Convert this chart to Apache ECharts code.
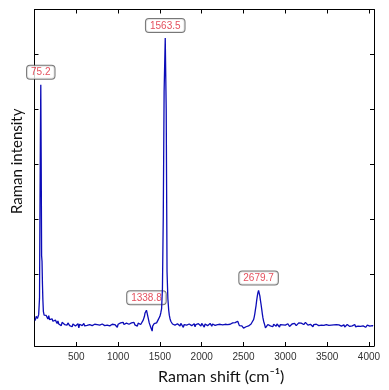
<!DOCTYPE html>
<html>
<head>
<meta charset="utf-8">
<script src="https://cdn.jsdelivr.net/npm/echarts@6/dist/echarts.min.js"></script>
<style>
html,body{margin:0;padding:0;background:#fff;}
#chart{width:389px;height:390px;}
</style>
</head>
<body>
<div id="chart"></div>
<script>
// ---- Spectrum data (Raman shift in cm^-1, intensity in counts) ----
// Low-wavenumber peak region (explicit points)
const lowShift = [8, 20, 35, 50, 60, 66, 70, 75.2, 80, 85, 90, 95, 100, 106, 115, 130, 140];
const lowInt   = [150, 230, 190, 260, 560, 2330, 3390, 4440, 3100, 1330, 1230, 820, 540, 320, 250, 230, 245];

// Baseline 150..1290 sampled every 10 cm^-1
const base1Start = 150, base1Step = 10;
const base1Int = [
  210,180,240,170,195,150,185,140,170,120,160,
  135,100,145,90,125,110,60,120,95,130,80,115,100,70,110,
  85,60,95,70,40,90,75,100,55,80,65,95,20,85,70,90,60,80,100,55,
  75,90,65,85,30,80,95,70,60,90,75,85,50,95,80,65,100,70,85,40,
  90,75,105,60,85,95,70,80,100,55,90,75,85,65,110,80,95,70,30,85,
  100,85,110,75,95,120,80,100,60,105,90,115,85,100,70,110,95,85,120,75,100,90,50,105,95,115,80,100,110
];

// D and G band region (explicit points)
const dgShift = [1300,1308,1315,1322,1330,1338.8,1345,1350,1358,1365,1372,1380,1388,1395,1401,1407,1413,1420,1430,1440,1450,1460,1470,1480,1490,
  1500,1510,1520,1530,1540,1550,1563.5,1575,1585,1595,1605,1612,1620,1630,1640];
const dgInt = [160,190,230,290,320,340,300,280,210,160,110,80,40,10,60,-40,50,60,95,100,75,110,135,170,200,
  230,290,370,730,2050,4310,5290,4000,1040,550,340,250,190,140,110];

// Baseline 1650..2590 sampled every 10 cm^-1
const base2Start = 1650, base2Step = 10;
const base2Int = [
  90,60,100,70,45,85,95,65,80,55,
  100,75,90,30,80,65,95,70,85,50,
  90,75,100,60,85,70,95,40,80,90,
  65,95,75,85,55,100,70,80,35,90,
  75,95,60,85,70,100,80,50,90,75,
  85,65,95,45,80,100,70,85,60,95,
  75,90,55,85,70,100,80,65,95,85,
  100,90,110,95,120,
  115,125,130,140,150,
  60,40,30,55,50,15,20,45,40,10,35,55,60,75,90
];

// 2D band region (explicit points)
const g2Shift = [2600,2605,2612,2620,2628,2635,2642,2650,2657,2665,2672,2679.7,2687,2695,2702,2710,2718,2725,2732,2740,2748,2755,2762,2770,2780];
const g2Int   = [110,130,150,170,220,280,350,430,520,600,660,700,650,600,520,440,350,270,200,140,100,70,20,-10,50];

// Baseline 2790..4050 sampled every 10 cm^-1
const base3Start = 2790, base3Step = 10;
const base3Int = [
  80,60,95,55,90,75,40,85,65,80,
  50,90,70,85,35,80,95,65,75,55,
  90,70,85,60,95,75,45,80,65,90,
  70,85,100,75,60,95,80,110,85,95,
  105,90,115,80,100,120,95,85,70,80,
  60,85,55,75,40,80,65,70,85,55,
  75,60,80,45,70,85,55,65,30,70,
  80,55,75,65,85,50,70,60,40,75,
  55,70,80,45,65,75,60,85,50,70,
  60,75,35,70,65,80,55,70,45,65,
  75,55,70,60,80,40,65,75,50,70,
  60,45,75,65,55,70,80,30,60,70,
  55,65,50,70,45,60,55
];

// Labelled peaks
const peakShift = [75.2, 1338.8, 1563.5, 2679.7];
const peakIntensity = [4440, 340, 5290, 700];

// Axis ticks
const xTicks = [500, 1000, 1500, 2000, 2500, 3000, 3500, 4000];
const yTicks = [1000, 2000, 3000, 4000, 5000];

const xMin = 0, xMax = 4060, yMin = -310, yMax = 5806;

function pairs(xs, ys) { return xs.map((x, i) => [x, ys[i]]); }
function sampled(start, step, ys) { return ys.map((y, i) => [start + i * step, y]); }

const lineData = [].concat(
  pairs(lowShift, lowInt),
  sampled(base1Start, base1Step, base1Int),
  pairs(dgShift, dgInt),
  sampled(base2Start, base2Step, base2Int),
  pairs(g2Shift, g2Int),
  sampled(base3Start, base3Step, base3Int)
).sort((a, b) => a[0] - b[0]);
const peakData = pairs(peakShift, peakIntensity);

const chart = echarts.init(document.getElementById('chart'), null, {renderer: 'canvas'});
const axisLineStyle = {color: '#000', width: 1};
chart.setOption({
  animation: false,
  backgroundColor: '#fff',
  grid: {left: 34.5, right: 15, top: 9.5, bottom: 42.3},
  xAxis: [{
    type: 'value', min: xMin, max: xMax, position: 'bottom',
    name: 'Raman shift (cm\u207B\u00B9)', nameLocation: 'middle', nameGap: 23,
    nameTextStyle: {fontFamily: 'Lato', fontSize: 16, color: '#111', padding: [0, 0, 0, 34]},
    axisLine: {show: true, onZero: false, lineStyle: axisLineStyle},
    axisTick: {show: true, inside: true, length: 4, customValues: xTicks, lineStyle: {color: '#000'}},
    axisLabel: {show: true, customValues: xTicks, formatter: v => String(v),
      fontFamily: 'Liberation Sans', fontSize: 10, color: '#333', margin: 6},
    splitLine: {show: false}
  }, {
    type: 'value', min: xMin, max: xMax, position: 'top',
    axisLine: {show: true, onZero: false, lineStyle: axisLineStyle},
    axisTick: {show: true, inside: true, length: 4, customValues: xTicks, lineStyle: {color: '#000'}},
    axisLabel: {show: false}, splitLine: {show: false}
  }],
  yAxis: [{
    type: 'value', min: yMin, max: yMax, position: 'left',
    name: 'Raman intensity', nameLocation: 'middle', nameGap: 10,
    nameTextStyle: {fontFamily: 'Lato', fontSize: 15, color: '#111', padding: [0, 0, 0, 33]},
    axisLine: {show: true, onZero: false, lineStyle: axisLineStyle},
    axisTick: {show: true, inside: true, length: 4, customValues: yTicks, lineStyle: {color: '#000'}},
    axisLabel: {show: false}, splitLine: {show: false}
  }, {
    type: 'value', min: yMin, max: yMax, position: 'right',
    axisLine: {show: true, onZero: false, lineStyle: axisLineStyle},
    axisTick: {show: true, inside: true, length: 4, customValues: yTicks, lineStyle: {color: '#000'}},
    axisLabel: {show: false}, splitLine: {show: false}
  }],
  series: [{
    type: 'line', data: lineData, xAxisIndex: 0, yAxisIndex: 0,
    showSymbol: false, symbol: 'none',
    lineStyle: {color: '#0c0cb8', width: 1.3},
    clip: true
  }, {
    type: 'scatter', data: peakData, xAxisIndex: 0, yAxisIndex: 0,
    symbolSize: 0,
    itemStyle: {color: 'transparent'},
    label: {
      show: true, position: 'top', distance: 6,
      formatter: p => p.value[0].toFixed(1),
      fontFamily: 'Liberation Sans', fontSize: 10, color: '#dd2233',
      backgroundColor: '#fff', borderColor: '#555', borderWidth: 1, borderRadius: 3,
      padding: [2, 4, 1, 4]
    }
  }]
});
</script>
</body>
</html>
